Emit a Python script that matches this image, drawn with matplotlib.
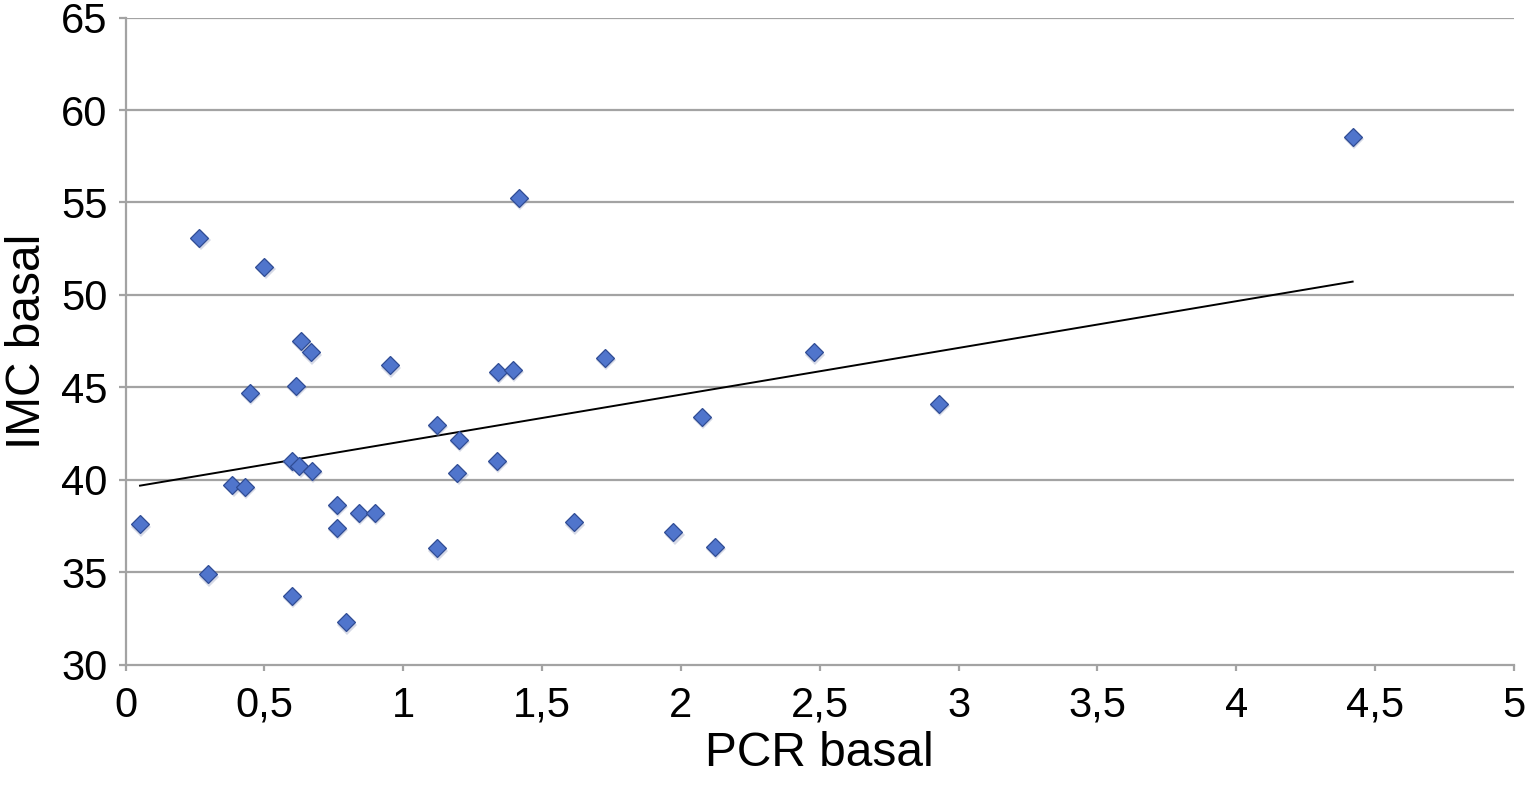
import matplotlib
matplotlib.use('Agg')
import matplotlib.pyplot as plt
import numpy as np
from matplotlib.ticker import FuncFormatter

plt.rcParams['font.family'] = ['Liberation Sans', 'DejaVu Sans']

# PCR basal vs IMC basal
pcr = [0.052, 0.266, 0.296, 0.385, 0.430, 0.448, 0.50, 0.598, 0.598, 0.613,
       0.626, 0.631, 0.669, 0.670, 0.762, 0.762, 0.793, 0.842, 0.898, 0.952,
       1.121, 1.121, 1.195, 1.200, 1.337, 1.341, 1.394, 1.417, 1.615, 1.726,
       1.973, 2.077, 2.122, 2.480, 2.930, 4.419]
imc = [37.6, 53.1, 34.9, 39.73, 39.64, 44.7, 51.5, 41.04, 33.73, 45.1,
       40.76, 47.5, 46.9, 40.5, 38.65, 37.4, 32.3, 38.23, 38.23, 46.2,
       42.97, 36.3, 40.4, 42.16, 41.04, 45.85, 45.95, 55.23, 37.71, 46.58,
       37.17, 43.42, 36.4, 46.9, 44.1, 58.56]

xticks = [0, 0.5, 1, 1.5, 2, 2.5, 3, 3.5, 4, 4.5, 5]
yticks = [30, 35, 40, 45, 50, 55, 60, 65]

grey = '#a3a3a3'

fig = plt.figure(figsize=(15.35, 7.85), dpi=100)
ax = fig.add_axes([0.0818, 0.1529, 0.9045, 0.8248])

ax.set_xlim(0, 5)
ax.set_ylim(30, 65)
ax.set_xticks(xticks)
ax.set_yticks(yticks)
ax.xaxis.set_major_formatter(FuncFormatter(lambda v, p: ('%g' % v).replace('.', ',')))

for y in yticks[1:]:
    ax.axhline(y, color=grey, lw=1.6, zorder=1)

for s in ['top', 'right']:
    ax.spines[s].set_visible(False)
for s in ['left', 'bottom']:
    ax.spines[s].set_color(grey)
    ax.spines[s].set_linewidth(1.6)

ax.tick_params(axis='both', colors=grey, labelcolor='black', labelsize=30, width=1.6)
ax.tick_params(axis='y', length=5, pad=8)
ax.tick_params(axis='x', length=4, pad=11)

# linear trend over data range
k, b = np.polyfit(pcr, imc, 1)
xx = np.array([min(pcr), max(pcr)])
ax.plot(xx, k * xx + b, color='black', lw=1.4, zorder=2)

# soft shadow, then markers
ax.plot(np.array(pcr) + 0.004, np.array(imc) - 0.12, 'D', markersize=10,
        color='#8a94b8', alpha=0.35, markeredgewidth=0, zorder=2.5, clip_on=False)
ax.plot(pcr, imc, 'D', markersize=9.3, markerfacecolor='#5075cc',
        markeredgecolor='#2f4c94', markeredgewidth=0.9, zorder=3, clip_on=False)

ax.set_xlabel('PCR basal', fontsize=34.5, labelpad=4)
ax.set_ylabel('IMC basal', fontsize=34.5, labelpad=8)

plt.savefig('out.png', dpi=100)
